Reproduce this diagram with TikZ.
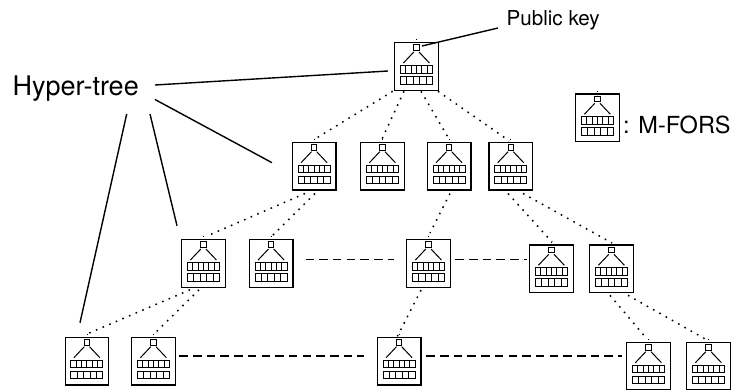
\documentclass[tikz,border=0pt]{standalone}
\usepackage{fontspec}
\setmainfont{TeX Gyre Heros}
\usetikzlibrary{calc}
\tikzset{
  x=1pt,y=-1pt,
  mbox/.style={draw,line width=1.3pt,minimum width=43.5pt,minimum height=47.5pt,inner sep=0pt,anchor=north west,fill=white},
  inner/.style={draw,line width=1pt},
  link/.style={line width=1.5pt,dash pattern=on 1.6pt off 5.6pt},
  gap/.style={line width=1.3pt,dash pattern=on 8.5pt off 5.2pt},
  lead/.style={line width=1.4pt},
  lbl/.style={inner sep=0pt,anchor=base west}
}
\newcommand{\mforsbox}[3]{%
  \node[mbox] (#1) at (#2,#3) {};
  \begin{scope}[shift={(#1.north)}]
    \draw[inner] (-2.6,2.8) rectangle (2.6,8.3);
    \draw[inner] (-2.6,10) -- (-13,21);
    \draw[inner] (2.6,10) -- (13,21);
    \draw[inner] (-16,23.3) rectangle (16,31);
    \draw[inner] (-16,34.3) rectangle (16,42);
    \foreach \i in {-10.67,-5.33,0,5.33,10.67} \draw[inner] (\i,23.3) -- (\i,31);
    \foreach \i in {-9.6,-3.2,3.2,9.6} \draw[inner] (\i,34.3) -- (\i,42);
    \fill (-.4,-2.6) rectangle (.4,-1.8);
  \end{scope}}
\newcommand{\dotlink}[6]{\draw[link] ($(#1.south west)+(#2,#3)$) -- ($(#4.north west)+(#5,#6)$);}
\begin{document}
\begin{tikzpicture}
\useasboundingbox (0,0) rectangle (732,389);
\mforsbox{a}{394}{42}
\mforsbox{b1}{291.7}{141.7}
\mforsbox{b2}{360}{141.7}
\mforsbox{b3}{426.7}{141.7}
\mforsbox{b4}{488.3}{141.7}
\mforsbox{c1}{181}{239}
\mforsbox{c2}{248.7}{239}
\mforsbox{c3}{406}{239}
\mforsbox{c4}{529}{244.3}
\mforsbox{c5}{589}{244.3}
\mforsbox{d1}{64.5}{336.7}
\mforsbox{d2}{131}{336.7}
\mforsbox{d3}{376.7}{336.7}
\mforsbox{d4}{626}{341.7}
\mforsbox{d5}{686}{341.7}
\mforsbox{k}{575}{93.3}
\node[lbl,font=\fontsize{27}{27}\selectfont] (ht) at (12.5,95) {Hyper-tree};
\node[lbl,font=\fontsize{20.6}{20.6}\selectfont] (pk) at (506.5,25) {Public key};
\node[lbl,font=\fontsize{23.5}{23.5}\selectfont] (mf) at (623,133) {: M-FORS};
% leader lines
\draw[lead] ($(pk.base west)+(-8.5,3)$) -- ($(a.north west)+(28,4)$);
\draw[lead] ($(ht.base west)+(142.5,-10)$) -- ($(a.north west)+(-6,29)$);
\draw[lead] ($(ht.base west)+(142.5,4.5)$) -- ($(b1.north west)+(-19.7,21)$);
\draw[lead] ($(ht.base west)+(137.5,19)$) -- ($(c1.north west)+(-4,-13.3)$);
\draw[lead] ($(ht.base west)+(114.2,19)$) -- ($(d1.north west)+(15.5,-14)$);
% dotted tree edges
\dotlink{a}{-1.3}{0.5}{b1}{23.3}{-2.7}
\dotlink{a}{10}{0.5}{b2}{22}{-2.7}
\dotlink{a}{27}{0.5}{b3}{22.3}{-2.7}
\dotlink{a}{44}{0.5}{b4}{20.7}{-1}
\dotlink{b1}{13.3}{3}{c1}{26}{-3}
\dotlink{b1}{23.3}{3}{c2}{22.3}{-2}
\dotlink{b3}{23.3}{3}{c3}{24}{-6}
\dotlink{b4}{19.7}{3}{c4}{23}{-2.3}
\dotlink{b4}{34.7}{3}{c5}{23}{-1.3}
\dotlink{c1}{9}{2}{d1}{22.5}{-2.7}
\dotlink{c1}{18}{2}{d2}{22}{-1.7}
\dotlink{c3}{15}{2.3}{d3}{20.3}{0.3}
\dotlink{c5}{21}{2.2}{d4}{21}{-2.7}
\dotlink{c5}{39}{2.2}{d5}{21}{-1.7}
% dashed gaps
\draw[gap] ($(c2.north east)+(12,20.7)$) -- ($(c3.north west)+(-12,20.7)$);
\draw[gap] ($(c3.north east)+(4.5,20.7)$) -- ($(c4.north west)+(-2,15.4)$);
\draw[gap] ($(d2.north east)+(3.5,19.3)$) -- ($(d3.north west)+(-13,19.3)$);
\draw[gap] ($(d3.north east)+(4.8,19.3)$) -- ($(d4.north west)+(-4,14.3)$);
\end{tikzpicture}
\end{document}
